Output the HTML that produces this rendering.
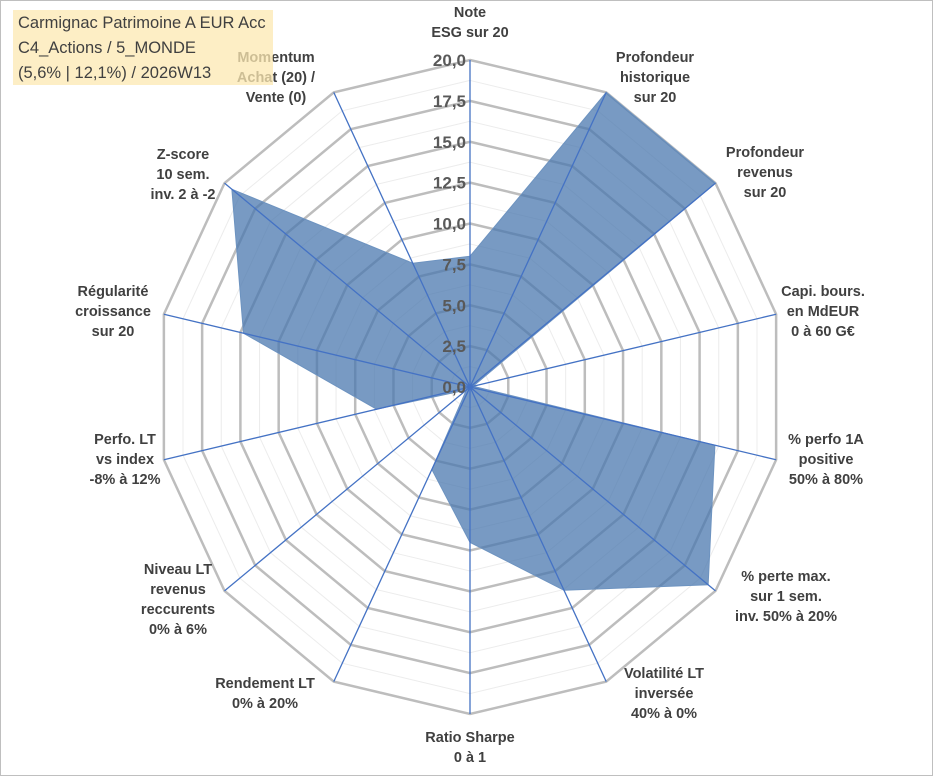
<!DOCTYPE html>
<html><head><meta charset="utf-8"><style>
body{margin:0;background:#fff;}
#wrap{position:relative;width:933px;height:776px;overflow:hidden;font-family:"Liberation Sans",sans-serif;}
.lbl{position:absolute;font-weight:bold;font-size:14.5px;color:#404040;text-align:center;line-height:20px;white-space:nowrap;transform:translate(-50%,0);}
#title{position:absolute;left:13px;top:10px;width:260px;height:75px;background:rgba(252,232,178,0.75);font-size:16.5px;color:#404040;line-height:25px;padding:1px 0 0 5px;box-sizing:border-box;}
</style></head><body>
<div id="wrap">
<svg id="svg" width="933" height="776" style="position:absolute;left:0;top:0">
<rect x="0.5" y="0.5" width="932" height="775" fill="#fff" stroke="#bfbfbf"/>
</svg>
<div id="labels"></div>
<div id="title">Carmignac Patrimoine A EUR Acc<br>C4_Actions / 5_MONDE<br>(5,6% | 12,1%) / 2026W13</div>
</div>
<script>
const categories=["Note\nESG sur 20","Profondeur\nhistorique\nsur 20","Profondeur\nrevenus\nsur 20","Capi. bours.\nen MdEUR\n0 à 60 G€","% perfo 1A\npositive\n50% à 80%","% perte max.\nsur 1 sem.\ninv. 50% à 20%","Volatilité LT\ninversée\n40% à 0%","Ratio Sharpe\n0 à 1","Rendement LT\n0% à 20%","Niveau LT\nrevenus\nreccurents\n0% à 6%","Perfo. LT\nvs index\n-8% à 12%","Régularité\ncroissance\nsur 20","Z-score\n10 sem.\ninv. 2 à -2","Momentum\nAchat (20) /\nVente (0)"];
const values=[8.0,20,20,0.2,16.0,19.4,13.8,9.5,5.6,0.3,6.1,14.8,19.4,8.4];
const tickLabels=["0,0","2,5","5,0","7,5","10,0","12,5","15,0","17,5","20,0"];
const maxVal=20;
const cx=470,cy=387,RX=314,RY=327,N=categories.length;
const labelPos=[[470,3],[655,48],[765,143],[823,282],[826,430],[786,567],[664,664],[470,728],[265,674],[178,560],[125,430],[113,282],[183,145],[276,48]];
const svg=document.getElementById('svg');const NS="http://www.w3.org/2000/svg";
function ang(i){return i*2*Math.PI/N;}
function pt(i,v){const f=v/maxVal;return [cx+f*RX*Math.sin(ang(i)),cy-f*RY*Math.cos(ang(i))];}
function mk(t,a){const e=document.createElementNS(NS,t);for(const k in a)e.setAttribute(k,a[k]);svg.appendChild(e);return e;}
for(let s=0;s<=16;s++){const v=s*maxVal/16;if(s%2===0)continue;
const p=mk('polygon',{points:categories.map((c,i)=>pt(i,v).join(',')).join(' '),fill:'none',stroke:'#ececec','stroke-width':1});

}
for(let s=1;s<tickLabels.length;s++){const v=s*maxVal/(tickLabels.length-1);
const p=mk('polygon',{points:categories.map((c,i)=>pt(i,v).join(',')).join(' '),fill:'none',stroke:'#bdbdbd','stroke-width':2.5});

}
const poly=mk('polygon',{points:values.map((v,i)=>pt(i,v).join(',')).join(' '),fill:'rgba(75,120,175,0.75)',stroke:'#6d93c0','stroke-width':1});


categories.forEach((c,i)=>{const p=pt(i,maxVal);const l=mk('line',{x1:cx,y1:cy,x2:p[0],y2:p[1],stroke:'#4472c4','stroke-width':1.3});

});
tickLabels.forEach((t,s)=>{const v=s*maxVal/(tickLabels.length-1);const y=cy-v/maxVal*RY;
const e=mk('text',{x:cx-4,y:y+6,'text-anchor':'end','font-family':'Liberation Sans, sans-serif','font-weight':'bold','font-size':17,fill:'#595959'});e.textContent=t;

});
const lab=document.getElementById('labels');
categories.forEach((c,i)=>{
const d=document.createElement('div');d.className='lbl';


d.innerHTML=c.split('\n').join('<br>');
d.style.left=labelPos[i][0]+'px';d.style.top=labelPos[i][1]+'px';
lab.appendChild(d);});
</script>
</body></html>
